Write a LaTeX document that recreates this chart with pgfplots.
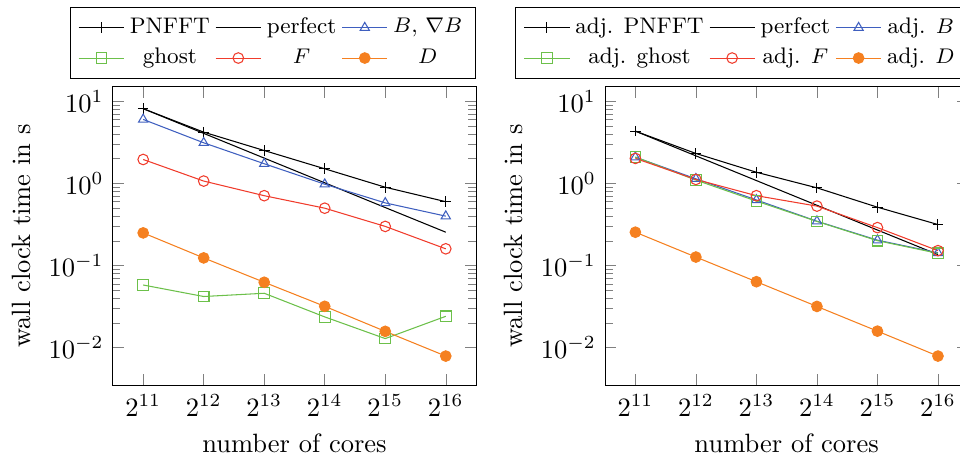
\documentclass[border=0pt]{standalone}
\usepackage{pgfplots}
\pgfplotsset{compat=1.18}
\definecolor{cblue}{HTML}{3F5FBF}
\definecolor{cgreen}{HTML}{6CC04A}
\definecolor{cred}{HTML}{F03C2C}
\definecolor{corange}{HTML}{F58020}

\begin{document}
\begin{tikzpicture}
\begin{axis}[at={(0,0)},
  scale only axis, width=137pt, height=112.5pt,
  xmode=log, ymode=log, log basis x=2,
  xmin=1448.15, xmax=92681.9,
  ymin=0.0035, ymax=15,
  xtick={2048,4096,8192,16384,32768,65536},
  ytick={0.01,0.1,1,10},
  xlabel={number of cores},
  ylabel={wall clock time in s},
  legend columns=3,
  legend cell align=center,
  legend style={at={(1,1)}, anchor=south east, yshift=3pt, font=\fontsize{8.5}{10}\selectfont},
]
\addplot[black, mark=+] coordinates {(2048,8.15) (4096,4.22) (8192,2.52) (16384,1.51) (32768,0.90) (65536,0.60)};
\addplot[black, no marks] coordinates {(2048,8.15) (4096,4.075) (8192,2.0375) (16384,1.019) (32768,0.509) (65536,0.255)};
\addplot[cblue, mark=triangle] coordinates {(2048,6.03) (4096,3.13) (8192,1.74) (16384,0.98) (32768,0.58) (65536,0.40)};
\addplot[cgreen, mark=square] coordinates {(2048,0.058) (4096,0.042) (8192,0.046) (16384,0.0237) (32768,0.0129) (65536,0.0241)};
\addplot[cred, mark=o] coordinates {(2048,1.96) (4096,1.07) (8192,0.71) (16384,0.50) (32768,0.30) (65536,0.16)};
\addplot[corange, mark=*, mark options={fill=corange}] coordinates {(2048,0.25) (4096,0.124) (8192,0.0626) (16384,0.0319) (32768,0.0158) (65536,0.0079)};
\legend{PNFFT, perfect, {$B$, $\nabla B$}, ghost, $F$, $D$}
\end{axis}

\begin{axis}[at={(185.7pt,0)},
  scale only axis, width=137pt, height=112.5pt,
  xmode=log, ymode=log, log basis x=2,
  xmin=1448.15, xmax=92681.9,
  ymin=0.0035, ymax=15,
  xtick={2048,4096,8192,16384,32768,65536},
  ytick={0.01,0.1,1,10},
  xlabel={number of cores},
  ylabel={wall clock time in s},
  legend columns=3,
  legend cell align=center,
  legend style={at={(1,1)}, anchor=south east, yshift=3pt, font=\fontsize{8.5}{10}\selectfont},
]
\addplot[black, mark=+] coordinates {(2048,4.34) (4096,2.32) (8192,1.37) (16384,0.885) (32768,0.514) (65536,0.316)};
\addplot[black, no marks] coordinates {(2048,4.34) (4096,2.17) (8192,1.085) (16384,0.5425) (32768,0.271) (65536,0.136)};
\addplot[cblue, mark=triangle] coordinates {(2048,2.09) (4096,1.14) (8192,0.63) (16384,0.347) (32768,0.204) (65536,0.143)};
\addplot[cgreen, mark=square] coordinates {(2048,2.10) (4096,1.10) (8192,0.61) (16384,0.345) (32768,0.201) (65536,0.141)};
\addplot[cred, mark=o] coordinates {(2048,2.02) (4096,1.12) (8192,0.71) (16384,0.53) (32768,0.29) (65536,0.152)};
\addplot[corange, mark=*, mark options={fill=corange}] coordinates {(2048,0.255) (4096,0.127) (8192,0.0636) (16384,0.0318) (32768,0.0159) (65536,0.0079)};
\legend{adj. PNFFT, perfect, adj. $B$, adj. ghost, adj. $F$, adj. $D$}
\end{axis}

\pgfresetboundingbox
\path[use as bounding box] (-42.6pt,-27.5pt) rectangle (319.6pt,145.3pt);
\end{tikzpicture}
\end{document}
